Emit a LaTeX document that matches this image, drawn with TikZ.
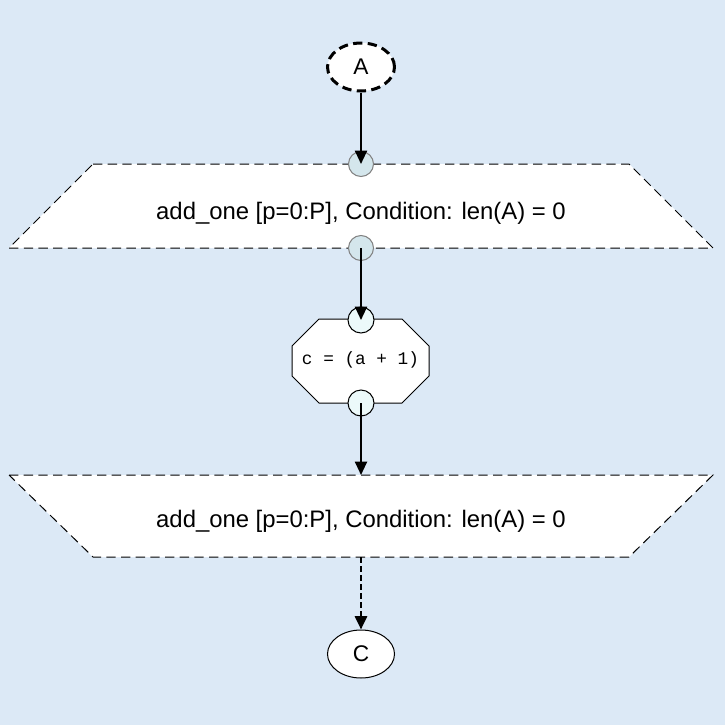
\documentclass[tikz,border=0pt]{standalone}
\usepackage{fontspec}
\setmainfont{Liberation Sans}
\newfontfamily\codefont{Liberation Mono}
\usetikzlibrary{arrows.meta,shapes.geometric}

\definecolor{canvasblue}{RGB}{220,233,246}
\definecolor{portgray}{RGB}{212,230,236}
\definecolor{portcyan}{RGB}{236,249,250}

\begin{document}
\begin{tikzpicture}[x=0.75pt, y=-0.75pt,
  flow/.style={-{Triangle[length=10pt,width=9pt]}, line width=1.5pt},
  mapbox/.style={fill=white, draw=black, line width=0.75pt, dash pattern=on 7pt off 4pt},
  mapport/.style={circle, minimum size=18.75pt, inner sep=0pt, fill=portgray, draw=gray, line width=0.75pt},
  taskport/.style={circle, minimum size=19.5pt, inner sep=0pt, fill=portcyan, draw=black, line width=0.75pt},
  maptext/.style={font=\fontsize{17.9}{21}\selectfont},
  access/.style={ellipse, minimum width=50.25pt, minimum height=36pt, inner sep=0pt, fill=white, font=\fontsize{17}{20}\selectfont}]

% Canvas
\fill[canvasblue] (0,0) rectangle (725,725);
\useasboundingbox (0,0) rectangle (725,725);

% Parameters
\def\midx{361}
\def\topA{164}
\def\botA{248}
\def\topB{475}
\def\botB{557}

% Input access node
\node[access, draw=black, line width=2.25pt, dash pattern=on 7pt off 4pt] (arrA) at (\midx,67) {A};

% Map entry
\filldraw[mapbox] (93,\topA) -- (629,\topA) -- (713,\botA) -- (9,\botA) -- cycle;
\node[maptext] (entry) at (\midx,213) {add\_one [p=0:P], Condition: len(A) = 0};
\node[mapport] (entryin) at (\midx,\topA) {};
\node[mapport] (entryout) at (\midx,\botA) {};

% Tasklet
\filldraw[fill=white, draw=black, line width=0.75pt]
  (319,319) -- (402,319) -- (429,346) -- (429,376) -- (402,403) -- (319,403) -- (292,376) -- (292,346) -- cycle;
\node[font=\codefont\fontsize{13.3}{16}\selectfont] (task) at (360.5,360) {c = (a + 1)};
\node[taskport] (taskin) at (\midx,320) {};
\node[taskport] (taskout) at (\midx,403) {};

% Map exit
\filldraw[mapbox] (9,\topB) -- (713,\topB) -- (629,\botB) -- (93,\botB) -- cycle;
\node[maptext] (exit) at (\midx,521) {add\_one [p=0:P], Condition: len(A) = 0};
\coordinate (exitin) at (\midx,\topB);
\coordinate (exitout) at (\midx,\botB);

% Output access node
\node[access, draw=black, line width=0.75pt] (arrC) at (\midx,654) {C};

% Edges
\draw[flow] (arrA) -- (entryin.center);
\draw[flow] (entryout.center) -- (taskin.center);
\draw[flow] (taskout.center) -- (exitin);
\draw[flow, line width=2pt, dash pattern=on 4.5pt off 2.25pt] (exitout) -- (arrC);

\end{tikzpicture}
\end{document}
